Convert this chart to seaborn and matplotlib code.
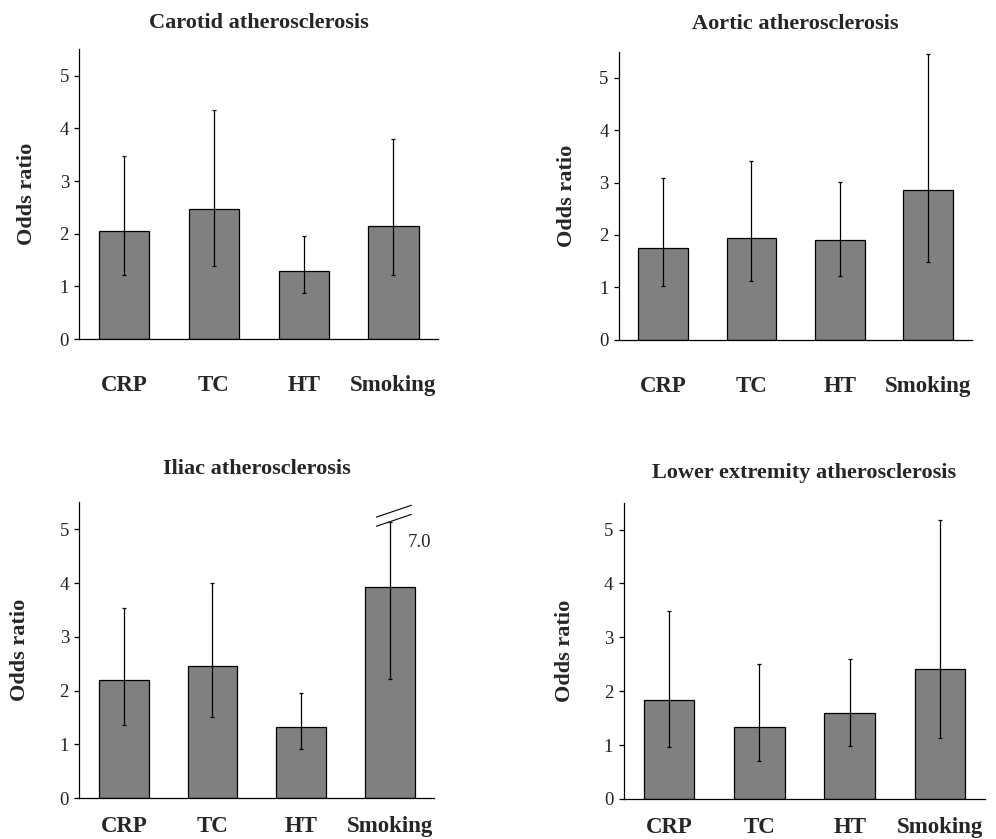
"""
odds ratio bar charts for atherosclerosis sites
"""
import matplotlib

matplotlib.use("Agg")
import matplotlib.pyplot as plt
import pandas as pd
import seaborn as sns

categories = ["CRP", "TC", "HT", "Smoking"]

carotid_or = [2.06, 2.46, 1.30, 2.15]
carotid_lo = [1.22, 1.39, 0.87, 1.22]
carotid_hi = [3.47, 4.34, 1.95, 3.80]

aortic_or = [1.76, 1.95, 1.91, 2.85]
aortic_lo = [1.02, 1.13, 1.22, 1.49]
aortic_hi = [3.08, 3.41, 3.01, 5.45]

iliac_or = [2.19, 2.45, 1.33, 3.92]
iliac_lo = [1.37, 1.52, 0.91, 2.21]
iliac_hi = [3.53, 4.00, 1.96, 7.0]

lower_or = [1.83, 1.33, 1.59, 2.42]
lower_lo = [0.96, 0.70, 0.98, 1.14]
lower_hi = [3.48, 2.50, 2.59, 5.18]

titles = [
    "Carotid atherosclerosis",
    "Aortic atherosclerosis",
    "Iliac atherosclerosis",
    "Lower extremity atherosclerosis",
]

y_max = 5.5
# y value where an off-scale error bar gets cut
break_at = 5.14

sns.set_style("white")
plt.rcParams["font.family"] = ["Liberation Serif", "DejaVu Serif"]

fig = plt.figure(figsize=(9.96, 8.39), dpi=100)

# axes boxes (left, bottom, width, height), x label pad, title pad, y label pad
boxes = [
    ([0.0797, 0.5959, 0.3604, 0.3453], 26, 15, 16),
    ([0.6215, 0.5951, 0.3547, 0.3433], 26, 16.5, 16),
    ([0.0797, 0.0485, 0.3564, 0.3528], 13, 20.5, 21),
    ([0.6262, 0.0477, 0.3631, 0.3532], 13, 17.5, 21),
]

panels = [
    (carotid_or, carotid_lo, carotid_hi),
    (aortic_or, aortic_lo, aortic_hi),
    (iliac_or, iliac_lo, iliac_hi),
    (lower_or, lower_lo, lower_hi),
]

for (box, xpad, tpad, ypad), (vals, lo, hi), title in zip(boxes, panels, titles):
    ax = fig.add_axes(box)
    df = pd.DataFrame({"factor": categories, "or": vals, "lo": lo, "hi": hi})
    sns.barplot(
        data=df,
        x="factor",
        y="or",
        color="#808080",
        saturation=1,
        edgecolor="black",
        linewidth=0.9,
        width=0.56,
        errorbar=None,
        ax=ax,
    )
    top = df["hi"].where(df["hi"] <= y_max, break_at)
    ax.errorbar(
        range(len(categories)),
        df["or"],
        yerr=[df["or"] - df["lo"], top - df["or"]],
        fmt="none",
        ecolor="black",
        elinewidth=0.9,
        capsize=1.5,
        capthick=0.9,
    )

    ax.set_xlim(-0.5, len(categories) - 0.5)
    ax.set_ylim(0, y_max)
    ax.set_yticks(range(6))
    ax.set_xticks(range(len(categories)))
    ax.set_xticklabels(categories, fontsize=16.5, fontweight="bold")
    ax.set_xticks([i - 0.5 for i in range(len(categories) + 1)], minor=True)
    ax.tick_params(axis="x", which="major", length=0, pad=xpad)
    ax.tick_params(axis="x", which="minor", length=3.5, width=0.9, color="black", direction="out")
    ax.tick_params(axis="y", length=3.5, width=0.9, color="black", direction="out",
                   labelsize=13.5, pad=4, left=True)
    for lab in ax.get_yticklabels():
        lab.set_color("#222222")

    for side in ["top", "right"]:
        ax.spines[side].set_visible(False)
    for side in ["left", "bottom"]:
        ax.spines[side].set_color("black")
        ax.spines[side].set_linewidth(0.9)

    ax.set_xlabel("")
    ax.set_ylabel("Odds ratio", fontsize=16, fontweight="bold", labelpad=ypad)
    ax.set_title(title, fontsize=16, fontweight="bold", pad=tpad)

    # break marks for any error bar that runs off the scale
    for i, h in enumerate(hi):
        if h > y_max:
            for dy in (0.0, 0.17):
                ax.plot(
                    [i - 0.153, i + 0.241],
                    [break_at - 0.085 + dy, break_at + 0.135 + dy],
                    color="black",
                    linewidth=0.8,
                    clip_on=False,
                )
            ax.text(i + 0.33, break_at - 0.39, f"{h:.1f}", fontsize=13.5,
                    ha="center", va="center", color="#222222")

fig.savefig("out.png", dpi=100)
